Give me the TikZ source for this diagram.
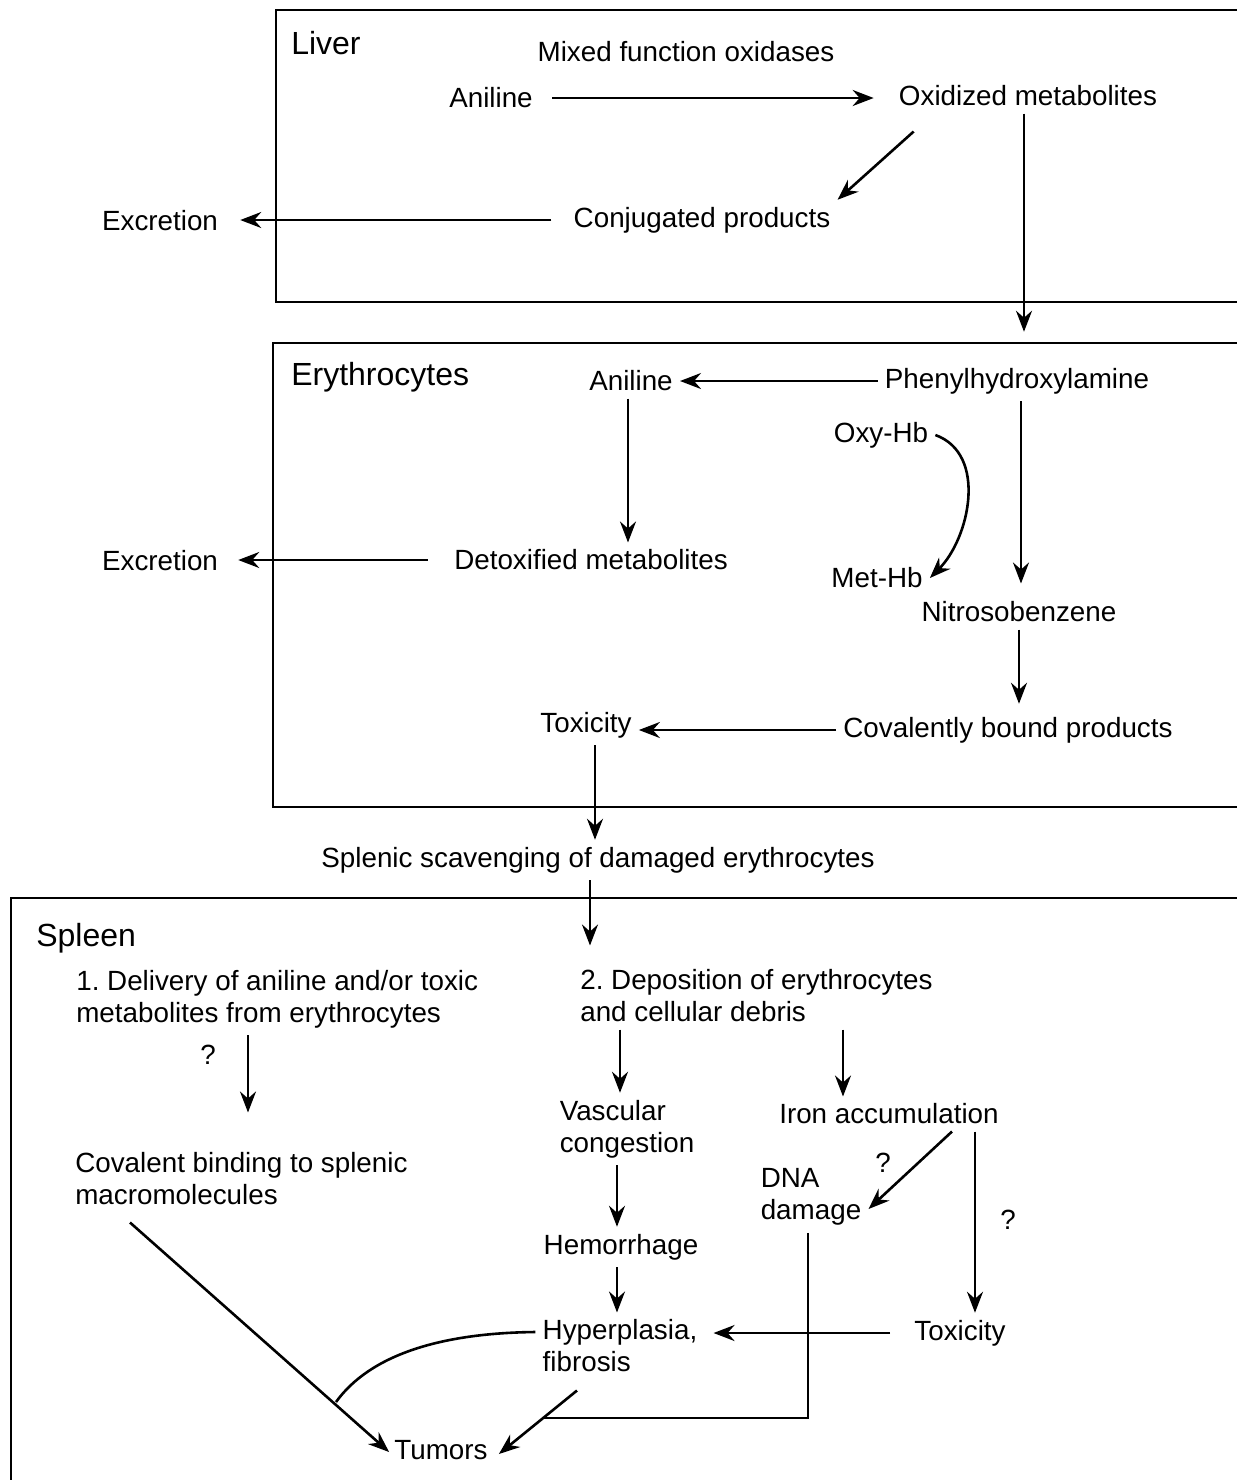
\documentclass[tikz,border=0pt]{standalone}
\usepackage{fontspec}
\setmainfont{Liberation Sans}
\usetikzlibrary{arrows.meta}
\frenchspacing

\begin{document}
\begin{tikzpicture}[x=0.5pt,y=0.5pt,line width=1.3pt,>={Stealth[length=10.5pt,width=8pt,inset=3.5pt]},every node/.style={inner sep=3pt,anchor=center,align=left,font=\fontsize{13.9}{16}\selectfont}]
		\useasboundingbox (0,0) rectangle (1237,-1480);
		
		\draw (1245,-10) -- (276,-10) -- (276,-302) -- (1245,-302);
		\draw (1245,-343) -- (273,-343) -- (273,-807) -- (1245,-807);
		\draw (1245,-898) -- (11,-898) -- (11,-1490);
		
		\begin{scope}[every node/.style={inner sep=3pt,anchor=west,font=\fontsize{16}{19}\selectfont}]
			\node (liver) at (284,-43) {Liver};
			\node (ery) at (284,-377) {Erythrocytes};
			\node (spleen) at (29,-938) {Spleen};
		\end{scope}
		
		\node (mfo) at (686,-52) {Mixed function oxidases};
		\node (anl) at (491,-98) {Aniline};
		\node (oxm) at (1028,-96) {Oxidized metabolites};
		\node (conj) at (702,-220) {Conjugated products};
		\node (excA) at (160,-221) {Excretion};
		
		\node (anE) at (631,-381) {Aniline};
		\node (phx) at (1017,-381) {Phenylhydroxylamine};
		\node (oxyhb) at (881,-435) {Oxy-Hb};
		\node (detox) at (591,-560) {Detoxified metabolites};
		\node (excB) at (160,-561) {Excretion};
		\node (methb) at (877,-578) {Met-Hb};
		\node (nitro) at (1019,-612) {Nitrosobenzene};
		\node (cbp) at (1008,-730) {Covalently bound products};
		\node (toxA) at (586,-725) {Toxicity};
		\node (splenic) at (598,-860) {Splenic scavenging of damaged erythrocytes};
		
		\node[anchor=west] (deliv) at (69,-999) {1. Delivery of aniline and/or toxic\\metabolites from erythrocytes};
		\node[anchor=west] (depo) at (573,-996) {2. Deposition of erythrocytes\\and cellular debris};
		\node (q1) at (208,-1055) {?};
		\node[anchor=west] (covb) at (68,-1179) {Covalent binding to splenic\\macromolecules};
		\node (vasc) at (627,-1129) {Vascular\\congestion};
		\node (iron) at (889,-1114) {Iron accumulation};
		\node (q2) at (883,-1163) {?};
		\node (dna) at (811,-1197) {DNA\\damage};
		\node (q3) at (1008,-1220) {?};
		\node (hemo) at (621,-1247) {Hemorrhage};
		\node (hyper) at (620,-1346) {Hyperplasia,\\fibrosis};
		\node (toxB) at (960,-1333) {Toxicity};
		\node (tumors) at (441,-1450) {Tumors};
		
		\coordinate (j) at (542,-1418);
		\coordinate (k) at (336,-1402);
		
		\draw[->,shorten <=6pt,shorten >=9pt] (anl.east) -- (anl.east -| oxm.west);
		\draw[->] ([xshift=11pt,yshift=-9pt]oxm.south west) -- (conj.north east);
		\draw[->,shorten <=7.5pt,shorten >=7.5pt] (conj.west) -- (conj.west -| excA.east);
		\draw[->,shorten >=14.5pt] ([xshift=-2pt]oxm.south) -- ([xshift=-2pt]oxm.south |- phx.north);
		
		\draw[->] (phx.west) -- (phx.west -| anE.east);
		\draw[->] ([xshift=-1.5pt]anE.south) -- ([xshift=-1.5pt]anE.south |- detox.north);
		\draw[->,shorten <=9.5pt,shorten >=6.5pt] (detox.west) -- (detox.west -| excB.east);
		\draw[->] (oxyhb.east) to[out=-20,in=45] (methb.east);
		\draw[->,shorten >=5.5pt] ([xshift=2pt]phx.south) -- ([xshift=2pt]phx.south |- nitro.north);
		\draw[->,shorten >=3pt] (nitro.south) -- (nitro.south |- cbp.north);
		\draw[->] (cbp.west) -- (cbp.west -| toxA.east);
		\draw[->] ([xshift=4.5pt]toxA.south) -- ([xshift=4.5pt]toxA.south |- splenic.north);
		\draw[->,shorten >=8.5pt] ([xshift=-4pt]splenic.south) -- ([xshift=-4pt]splenic.south |- depo.north);
		
		\draw[->,shorten >=16.5pt] ([xshift=89.5pt]deliv.south west) -- ([xshift=89.5pt]deliv.south west |- covb.north);
		\draw[->] ([xshift=23.5pt]depo.south west) -- ([xshift=23.5pt]depo.south west |- vasc.north);
		\draw[->] ([xshift=-23pt]iron.north |- depo.south) -- ([xshift=-23pt]iron.north);
		\draw[->] ([xshift=-5pt]vasc.south) -- ([xshift=-5pt]vasc.south |- hemo.north);
		\draw[->] ([xshift=-2pt]hemo.south) -- ([xshift=-2pt]hemo.south |- hyper.north);
		\draw[->] ([xshift=31.5pt]iron.south) -- ([yshift=-6pt]dna.east);
		\draw[->] ([xshift=43pt]iron.south) -- ([xshift=43pt]iron.south |- toxB.north);
		\draw[->,shorten <=8.5pt,shorten >=4.5pt] (toxB.west) -- (toxB.west -| hyper.east);
		\draw[->] ([xshift=-21.5pt,yshift=-5.5pt]hyper.south) -- ([xshift=2pt,yshift=-2pt]tumors.east);
		\draw ([xshift=-1.5pt]dna.south) |- (j);
		\draw[->] ([xshift=31pt,yshift=-5pt]covb.south west) -- ([xshift=1pt,yshift=-1pt]tumors.west);
		\draw ([yshift=7pt]hyper.west) .. controls (440,-1333) and (370,-1355) .. (k);
	\end{tikzpicture}
\end{document}
